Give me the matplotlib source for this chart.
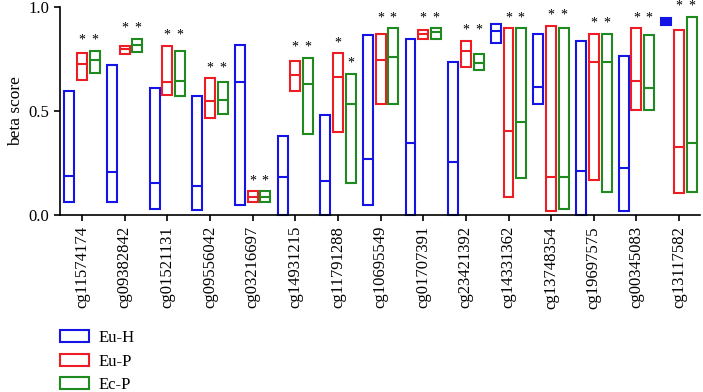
import matplotlib
matplotlib.use("Agg")
import matplotlib.pyplot as plt
from matplotlib.patches import Patch
import numpy as np

plt.rcParams['font.family'] = ['Liberation Serif', 'DejaVu Serif']

probes = ["cg11574174", "cg09382842", "cg01521131", "cg09556042", "cg03216697",
          "cg14931215", "cg11791288", "cg10695549", "cg01707391", "cg23421392",
          "cg14331362", "cg13748354", "cg19697575", "cg00345083", "cg13117582"]

# min / median / max beta scores for each group
euh_min = [0.061, 0.061, 0.029, 0.022, 0.048, 0.0, 0.0, 0.048, 0.0, 0.0, 0.824, 0.531, 0.0, 0.019, 0.914]
euh_med = [0.189, 0.205, 0.155, 0.139, 0.640, 0.182, 0.165, 0.269, 0.346, 0.253, 0.885, 0.616, 0.213, 0.226, 0.930]
euh_max = [0.597, 0.719, 0.610, 0.573, 0.818, 0.381, 0.480, 0.863, 0.846, 0.736, 0.917, 0.870, 0.837, 0.763, 0.945]

eup_min = [0.648, 0.774, 0.578, 0.467, 0.061, 0.595, 0.398, 0.533, 0.846, 0.712, 0.085, 0.021, 0.168, 0.503, 0.104]
eup_med = [0.723, 0.795, 0.638, 0.549, 0.088, 0.671, 0.661, 0.746, 0.869, 0.786, 0.402, 0.184, 0.734, 0.645, 0.328]
eup_max = [0.776, 0.813, 0.811, 0.656, 0.114, 0.741, 0.776, 0.869, 0.886, 0.837, 0.896, 0.907, 0.869, 0.896, 0.886]

ecp_min = [0.683, 0.784, 0.571, 0.486, 0.061, 0.389, 0.154, 0.533, 0.846, 0.698, 0.176, 0.027, 0.112, 0.503, 0.112]
ecp_med = [0.743, 0.816, 0.645, 0.554, 0.088, 0.629, 0.531, 0.757, 0.877, 0.728, 0.448, 0.184, 0.736, 0.608, 0.346]
ecp_max = [0.787, 0.846, 0.787, 0.637, 0.114, 0.754, 0.678, 0.896, 0.896, 0.774, 0.896, 0.896, 0.869, 0.863, 0.952]

groups = ["Eu-H", "Eu-P", "Ec-P"]
colors = ["#1414e6", "#ee1c24", "#1f8a1f"]

fig = plt.figure(figsize=(7.03, 3.92), dpi=100)
ax = fig.add_axes([60 / 703, 177 / 392, 640 / 703, 208.3 / 392])

x = np.arange(len(probes))
off = 0.298
w = 0.234
lw = 1.5
series = [(euh_min, euh_med, euh_max), (eup_min, eup_med, eup_max), (ecp_min, ecp_med, ecp_max)]
for i, (lo, med, hi) in enumerate(series):
    lo = np.array(lo); med = np.array(med); hi = np.array(hi)
    xs = x + (i - 1) * off
    # very narrow ranges come out as a solid block in the original
    faces = [colors[i] if h - l < 0.035 else "none" for l, h in zip(lo, hi)]
    ax.bar(xs, hi - lo, bottom=lo, width=w, color=faces, edgecolor=colors[i],
           linewidth=lw, clip_on=False)
    ax.hlines(med, xs - w / 2, xs + w / 2, colors=colors[i], linewidth=lw, clip_on=False)

# significance stars over Eu-P and Ec-P
for k in range(len(probes)):
    a, b = eup_max[k], ecp_max[k]
    if abs(a - b) > 0.08:
        ya, yb = a, b
    else:
        ya = yb = max(a, b)
    ax.text(x[k], ya + 0.02, "*", ha="center", va="bottom", fontsize=10, clip_on=False)
    ax.text(x[k] + off, yb + 0.02, "*", ha="center", va="bottom", fontsize=10, clip_on=False)

ax.set_xlim(-0.516, 14.49)
ax.set_ylim(0, 1.0)
ax.set_yticks([0, 0.5, 1.0])
ax.set_yticklabels(["0.0", "0.5", "1.0"], fontsize=12)
ax.set_xticks(x)
ax.set_xticklabels(probes, rotation=90, fontsize=12)
ax.tick_params(axis="both", direction="out", length=4.5, width=1.2)
for s in ["top", "right"]:
    ax.spines[s].set_visible(False)
ax.spines["left"].set_linewidth(1.2)
ax.spines["bottom"].set_linewidth(1.2)
ax.set_ylabel("beta score", fontsize=12.5, labelpad=3)

handles = [Patch(facecolor="none", edgecolor=c, linewidth=lw) for c in colors]
fig.legend(handles, groups, loc="upper left", bbox_to_anchor=(48 / 703, 1 - 318.5 / 392),
           frameon=False, fontsize=12, handlelength=1.75, handleheight=0.75,
           labelspacing=0.45, handletextpad=0.6, borderaxespad=0.3)

fig.savefig("out.png", dpi=100)
